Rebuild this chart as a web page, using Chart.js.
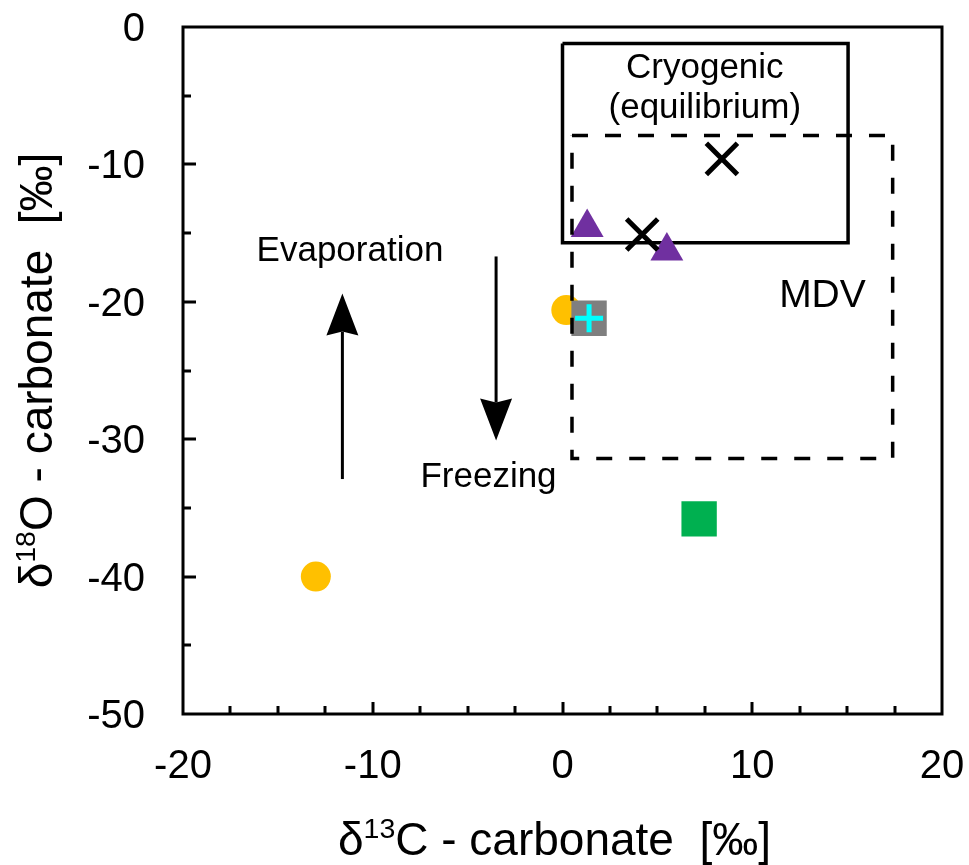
<!DOCTYPE html>
<html>
<head>
<meta charset="utf-8">
<script src="https://cdn.jsdelivr.net/npm/chart.js@4.4.1/dist/chart.umd.min.js"></script>
<style>
  html, body { margin: 0; padding: 0; background: #fff; }
  canvas { display: block; }
</style>
</head>
<body>
<canvas id="myChart" width="969" height="865"></canvas>
<script>
// values (d13C, d18O in permil)
var circleX = [-13.0, 0.2];
var circleY = [-40.0, -20.6];
var greySquareX = [1.4];
var greySquareY = [-21.2];
var plusX = [1.4];
var plusY = [-21.2];
var triangleX = [1.3, 5.5];
var triangleY = [-14.6, -16.3];
var crossX = [8.4, 4.2];
var crossY = [-9.6, -15.1];
var greenSquareX = [7.2];
var greenSquareY = [-35.8];

// boxes: [min, max]
var cryoBoxX = [0.0, 15.05];
var cryoBoxY = [-15.7, -1.2];
var mdvBoxX = [0.5, 17.4];
var mdvBoxY = [-31.4, -7.9];

// arrows: x, tail y, tip y
var arrowX = [-11.6, -3.5];
var arrowFrom = [-32.9, -16.7];
var arrowTo = [-19.4, -30.1];

var noteText = ['Evaporation', 'Freezing', 'MDV', 'Cryogenic', '(equilibrium)'];
var noteX = [-11.2, -3.9, 13.7, 7.5, 7.5];
var noteY = [-16.3, -32.8, -19.6, -3.0, -5.9];
var noteSize = [35, 35, 39, 35, 35];

var xTicks = [-20, -10, 0, 10, 20];
var yTicks = [0, -10, -20, -30, -40, -50];

var FONT = "'Liberation Sans', Arial, sans-serif";

function points(xs, ys) {
  var out = [];
  for (var i = 0; i < xs.length; i++) {
    out.push({x: xs[i], y: ys[i]});
  }
  return out;
}

function boxPath(bx, by) {
  return [
    {x: bx[0], y: by[1]}, {x: bx[1], y: by[1]},
    {x: bx[1], y: by[0]}, {x: bx[0], y: by[0]},
    {x: bx[0], y: by[1]}
  ];
}

function drawParts(ctx, parts, cx, y, size) {
  // text with superscript pieces, centred on cx
  var w = 0;
  for (var i = 0; i < parts.length; i++) {
    ctx.font = (parts[i][1] ? size * 0.62 : size) + 'px ' + FONT;
    w += ctx.measureText(parts[i][0]).width;
  }
  var x = cx - w / 2;
  ctx.textAlign = 'left';
  ctx.textBaseline = 'alphabetic';
  for (var j = 0; j < parts.length; j++) {
    var sup = parts[j][1];
    ctx.font = (sup ? size * 0.62 : size) + 'px ' + FONT;
    ctx.fillText(parts[j][0], x, sup ? y - size * 0.38 : y);
    x += ctx.measureText(parts[j][0]).width;
  }
}

var decor = {
  id: 'decor',
  beforeDatasetsDraw: function(chart) {
    var ctx = chart.ctx;
    var a = chart.chartArea;
    var xs = chart.scales.x;
    var ys = chart.scales.y;
    ctx.save();
    ctx.strokeStyle = '#000';
    ctx.lineWidth = 3;
    // inward ticks
    ctx.beginPath();
    for (var v = -17.5; v < 20; v += 2.5) {
      var px = Math.round(xs.getPixelForValue(v));
      var len = (v % 10 === 0) ? 12 : 8;
      ctx.moveTo(px, a.bottom);
      ctx.lineTo(px, a.bottom - len);
    }
    for (var w = -45; w < 0; w += 5) {
      var py = Math.round(ys.getPixelForValue(w));
      var len2 = (w % 10 === 0) ? 13 : 8;
      ctx.moveTo(a.left, py);
      ctx.lineTo(a.left + len2, py);
    }
    ctx.stroke();
    ctx.strokeRect(a.left, a.top, a.right - a.left, a.bottom - a.top);

    // tick labels
    ctx.fillStyle = '#000';
    ctx.font = '40px ' + FONT;
    ctx.textAlign = 'center';
    ctx.textBaseline = 'alphabetic';
    for (var i = 0; i < xTicks.length; i++) {
      ctx.fillText(String(xTicks[i]), xs.getPixelForValue(xTicks[i]), a.bottom + 64);
    }
    ctx.textAlign = 'right';
    for (var j = 0; j < yTicks.length; j++) {
      ctx.fillText(String(yTicks[j]), a.left - 38, ys.getPixelForValue(yTicks[j]) + 14);
    }
    ctx.restore();
  },
  afterDatasetsDraw: function(chart) {
    var ctx = chart.ctx;
    var xs = chart.scales.x;
    var ys = chart.scales.y;
    ctx.save();
    ctx.strokeStyle = '#000';
    ctx.fillStyle = '#000';
    ctx.lineWidth = 3;
    for (var i = 0; i < arrowX.length; i++) {
      var x = xs.getPixelForValue(arrowX[i]);
      var y0 = ys.getPixelForValue(arrowFrom[i]);
      var y1 = ys.getPixelForValue(arrowTo[i]);
      var dir = y1 < y0 ? -1 : 1;
      var headLen = 42;
      var headW = 16;
      ctx.beginPath();
      ctx.moveTo(x, y0);
      ctx.lineTo(x, y1 - dir * (headLen - 4));
      ctx.stroke();
      ctx.beginPath();
      ctx.moveTo(x, y1);
      ctx.lineTo(x - headW, y1 - dir * headLen);
      ctx.lineTo(x, y1 - dir * (headLen - 4));
      ctx.lineTo(x + headW, y1 - dir * headLen);
      ctx.closePath();
      ctx.fill();
    }
    ctx.textAlign = 'center';
    ctx.textBaseline = 'middle';
    for (var k = 0; k < noteText.length; k++) {
      ctx.font = noteSize[k] + 'px ' + FONT;
      ctx.fillText(noteText[k], xs.getPixelForValue(noteX[k]), ys.getPixelForValue(noteY[k]));
    }
    ctx.restore();
  },
  afterDraw: function(chart) {
    var ctx = chart.ctx;
    var a = chart.chartArea;
    ctx.save();
    ctx.fillStyle = '#000';
    drawParts(ctx, [['\u03B4', false], ['13', true], ['C - carbonate  [\u2030]', false]],
      (a.left + a.right) / 2 - 8, chart.height - 10, 46);
    ctx.translate(52, (a.top + a.bottom) / 2);
    ctx.rotate(-Math.PI / 2);
    drawParts(ctx, [['\u03B4', false], ['18', true], ['O - carbonate  [\u2030]', false]], 0, 0, 46);
    ctx.restore();
  }
};

var ctx = document.getElementById('myChart').getContext('2d');
var chart = new Chart(ctx, {
  type: 'scatter',
  data: {
    datasets: [
      {
        label: 'MDV',
        data: boxPath(mdvBoxX, mdvBoxY),
        showLine: true,
        borderColor: '#000',
        borderWidth: 3.5,
        borderDash: [16, 17],
        pointRadius: 0,
        order: 0
      },
      {
        label: 'plus',
        data: points(plusX, plusY),
        pointStyle: 'cross',
        pointRadius: 14,
        borderColor: '#00FFFF',
        borderWidth: 5,
        order: 1
      },
      {
        label: 'grey square',
        data: points(greySquareX, greySquareY),
        pointStyle: 'rect',
        pointRadius: 25,
        backgroundColor: '#7F7F7F',
        borderWidth: 0,
        order: 2
      },
      {
        label: 'circles',
        data: points(circleX, circleY),
        pointStyle: 'circle',
        pointRadius: 15,
        backgroundColor: '#FFC000',
        borderWidth: 0,
        order: 3
      },
      {
        label: 'crosses',
        data: points(crossX, crossY),
        pointStyle: 'crossRot',
        pointRadius: 22,
        borderColor: '#000',
        borderWidth: 5,
        order: 4
      },
      {
        label: 'triangles',
        data: points(triangleX, triangleY),
        pointStyle: 'triangle',
        pointRadius: 19,
        backgroundColor: '#7030A0',
        borderWidth: 0,
        order: 5
      },
      {
        label: 'green square',
        data: points(greenSquareX, greenSquareY),
        pointStyle: 'rect',
        pointRadius: 25,
        backgroundColor: '#00B050',
        borderWidth: 0,
        order: 6
      },
      {
        label: 'Cryogenic',
        data: boxPath(cryoBoxX, cryoBoxY),
        showLine: true,
        borderColor: '#000',
        borderWidth: 3.5,
        pointRadius: 0,
        order: 7
      }
    ]
  },
  options: {
    responsive: false,
    animation: false,
    events: [],
    layout: { padding: { top: 21, right: 26, left: 0, bottom: 0 } },
    plugins: {
      legend: { display: false },
      tooltip: { enabled: false }
    },
    scales: {
      x: {
        type: 'linear',
        min: xTicks[0],
        max: xTicks[xTicks.length - 1],
        afterFit: function(scale) { scale.height = 151; },
        grid: { display: false, drawTicks: false },
        border: { display: false },
        ticks: { display: false }
      },
      y: {
        type: 'linear',
        min: yTicks[yTicks.length - 1],
        max: yTicks[0],
        afterFit: function(scale) { scale.width = 183; },
        grid: { display: false, drawTicks: false },
        border: { display: false },
        ticks: { display: false }
      }
    }
  },
  plugins: [decor]
});
</script>
</body>
</html>
